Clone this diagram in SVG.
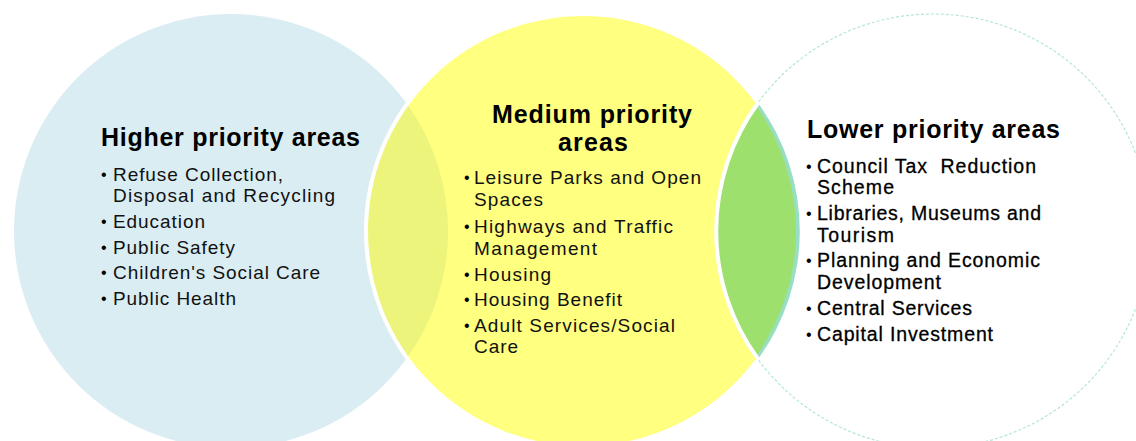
<svg xmlns="http://www.w3.org/2000/svg" width="1136" height="441" viewBox="0 0 1136 441">
<style>
.h{font-family:"Liberation Sans",Arial,sans-serif;font-weight:bold;font-size:25px;fill:#000}
.t{font-family:"Liberation Sans",Arial,sans-serif;font-size:19px;fill:#111}
.tr{font-family:"Liberation Sans",Arial,sans-serif;font-size:19.5px;fill:#000;stroke:#000;stroke-width:0.3;white-space:pre}
.b{font-family:"Liberation Sans",Arial,sans-serif;font-size:16px;fill:#000}
</style>
<rect width="1136" height="441" fill="#ffffff"/>
<g id="higher">
<circle cx="231" cy="231" r="217" fill="#daedf3"/>
</g>
<g id="medium">
<circle cx="583" cy="231" r="217" fill="#ffff80"/>
<path d="M407,104 A217,217 0 0,0 407,358 A217,217 0 0,0 407,104 Z" fill="#edf47b"/>
<circle cx="583" cy="231" r="217" fill="none" stroke="#ffffff" stroke-width="4"/>
</g>
<g id="lower">
<circle cx="933" cy="231" r="217" fill="none" stroke="#a6e3cc" stroke-width="1.2" stroke-dasharray="3 2" opacity="0.85"/>
<path d="M758,103 A217,217 0 0,0 758,359 A217,217 0 0,0 758,103 Z" fill="#98dec2"/>
<path d="M756,105.5 A217,217 0 0,0 756,356.5 A217,217 0 0,0 756,105.5 Z" fill="#9ee06e"/>
<path d="M758,103 A217,217 0 0,0 758,359" fill="none" stroke="#ffffff" stroke-width="4"/>
</g>
<g id="higher-text">
<text class="h" x="101" y="146" textLength="259" lengthAdjust="spacing">Higher priority areas</text>
<text class="b" x="101" y="180">•</text>
<text class="t" x="113" y="181" textLength="170" lengthAdjust="spacing">Refuse Collection,</text>
<text class="t" x="113" y="202" textLength="222" lengthAdjust="spacing">Disposal and Recycling</text>
<text class="b" x="101" y="227">•</text>
<text class="t" x="113" y="228" textLength="92" lengthAdjust="spacing">Education</text>
<text class="b" x="101" y="253">•</text>
<text class="t" x="113" y="254" textLength="122" lengthAdjust="spacing">Public Safety</text>
<text class="b" x="101" y="278">•</text>
<text class="t" x="113" y="279" textLength="207" lengthAdjust="spacing">Children's Social Care</text>
<text class="b" x="101" y="304">•</text>
<text class="t" x="113" y="305" textLength="123" lengthAdjust="spacing">Public Health</text>
</g>
<g id="medium-text">
<text class="h" x="492" y="123" textLength="200" lengthAdjust="spacing">Medium priority</text>
<text class="h" x="558" y="151" textLength="70" lengthAdjust="spacing">areas</text>
<text class="b" x="464" y="183">•</text>
<text class="t" x="474" y="184" textLength="227" lengthAdjust="spacing">Leisure Parks and Open</text>
<text class="t" x="474" y="206" textLength="69" lengthAdjust="spacing">Spaces</text>
<text class="b" x="464" y="232">•</text>
<text class="t" x="474" y="233" textLength="199" lengthAdjust="spacing">Highways and Traffic</text>
<text class="t" x="474" y="255" textLength="123" lengthAdjust="spacing">Management</text>
<text class="b" x="464" y="280">•</text>
<text class="t" x="474" y="281" textLength="77" lengthAdjust="spacing">Housing</text>
<text class="b" x="464" y="305">•</text>
<text class="t" x="474" y="306" textLength="148" lengthAdjust="spacing">Housing Benefit</text>
<text class="b" x="464" y="331">•</text>
<text class="t" x="474" y="332" textLength="201" lengthAdjust="spacing">Adult Services/Social</text>
<text class="t" x="474" y="353" textLength="44" lengthAdjust="spacing">Care</text>
</g>
<g id="lower-text">
<text class="h" x="807" y="138" textLength="253" lengthAdjust="spacing">Lower priority areas</text>
<text class="b" x="806" y="172">•</text>
<text class="tr" x="817" y="173" xml:space="preserve" textLength="219" lengthAdjust="spacing">Council Tax  Reduction</text>
<text class="tr" x="817" y="194" textLength="77" lengthAdjust="spacing">Scheme</text>
<text class="b" x="806" y="219">•</text>
<text class="tr" x="817" y="220" textLength="224" lengthAdjust="spacing">Libraries, Museums and</text>
<text class="tr" x="817" y="242" textLength="77" lengthAdjust="spacing">Tourism</text>
<text class="b" x="806" y="266">•</text>
<text class="tr" x="817" y="267" textLength="223" lengthAdjust="spacing">Planning and Economic</text>
<text class="tr" x="817" y="289" textLength="124" lengthAdjust="spacing">Development</text>
<text class="b" x="806" y="314">•</text>
<text class="tr" x="817" y="315" textLength="155" lengthAdjust="spacing">Central Services</text>
<text class="b" x="806" y="340">•</text>
<text class="tr" x="817" y="341" textLength="176" lengthAdjust="spacing">Capital Investment</text>
</g>
<g id="connectors"/>
</svg>
